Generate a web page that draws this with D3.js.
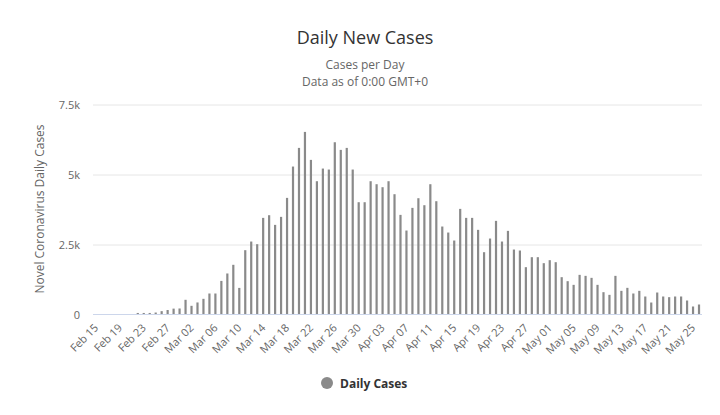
<!DOCTYPE html>
<html><head><meta charset="utf-8">
<script src="https://cdn.jsdelivr.net/npm/d3@7/dist/d3.min.js"></script>
<style>
body{margin:0;background:#fff}
text{font-family:"Open Sans","DejaVu Sans",sans-serif}
</style></head>
<body><svg id="c" width="720" height="415"></svg>
<script>
const dates = [
"Feb 15","Feb 16","Feb 17","Feb 18","Feb 19","Feb 20","Feb 21","Feb 22","Feb 23","Feb 24","Feb 25","Feb 26","Feb 27","Feb 28","Feb 29",
"Mar 01","Mar 02","Mar 03","Mar 04","Mar 05","Mar 06","Mar 07","Mar 08","Mar 09","Mar 10","Mar 11","Mar 12","Mar 13","Mar 14","Mar 15","Mar 16",
"Mar 17","Mar 18","Mar 19","Mar 20","Mar 21","Mar 22","Mar 23","Mar 24","Mar 25","Mar 26","Mar 27","Mar 28","Mar 29","Mar 30","Mar 31",
"Apr 01","Apr 02","Apr 03","Apr 04","Apr 05","Apr 06","Apr 07","Apr 08","Apr 09","Apr 10","Apr 11","Apr 12","Apr 13","Apr 14","Apr 15",
"Apr 16","Apr 17","Apr 18","Apr 19","Apr 20","Apr 21","Apr 22","Apr 23","Apr 24","Apr 25","Apr 26","Apr 27","Apr 28","Apr 29","Apr 30",
"May 01","May 02","May 03","May 04","May 05","May 06","May 07","May 08","May 09","May 10","May 11","May 12","May 13","May 14","May 15",
"May 16","May 17","May 18","May 19","May 20","May 21","May 22","May 23","May 24","May 25","May 26"];
const dailyCases = [
0,0,0,0,0,0,0,55,55,55,70,120,160,210,215,
525,310,430,560,750,750,1200,1465,1775,950,2297,2606,2511,3451,3546,3201,3487,4165,5284,5950,6521,5522,4760,5212,5177,6152,5879,5950,5177,4010,4010,
4760,4653,4546,4760,4296,3558,2999,3808,4153,3903,4653,4046,3142,2927,2642,3772,3451,3451,3023,2225,2713,3344,2606,2987,2320,2285,1690,2047,2047,1833,
1940,1868,1333,1190,1059,1416,1380,1309,1059,797,702,1380,845,952,750,845,643,428,785,643,619,643,643,500,286,357];
const yTickValues = [0,2500,5000,7500];
const yTickLabels = ["0","2.5k","5k","7.5k"];
const xTickLabels = dates.filter((d,i)=>i%4===0);

const svg = d3.select("#c");
const x = d3.scaleBand().domain(dates).range([93,702]).paddingInner(0).paddingOuter(0);
const y = d3.scaleLinear().domain([0,7500]).range([314.5,104.5]);

// titles
svg.append("text").attr("x",365).attr("y",44).attr("text-anchor","middle")
  .attr("font-size",18).attr("fill","#333").text("Daily New Cases");
svg.append("text").attr("x",365).attr("y",69).attr("text-anchor","middle")
  .attr("font-size",12).attr("fill","#666").text("Cases per Day");
svg.append("text").attr("x",365).attr("y",86).attr("text-anchor","middle")
  .attr("font-size",12).attr("fill","#666").text("Data as of 0:00 GMT+0");

// grid + y axis
const yAxis = d3.axisLeft(y).tickValues(yTickValues).tickSize(-(702-93))
  .tickFormat((d,i)=>yTickLabels[i]).tickPadding(13);
const gy = svg.append("g").attr("transform","translate(93,0)").call(yAxis);
gy.select(".domain").remove();
gy.selectAll(".tick line").attr("stroke","#e6e6e6");
gy.selectAll(".tick text").attr("font-size",11).attr("fill","#666").attr("font-family","'Open Sans',sans-serif");
gy.selectAll(".tick").filter(d=>d===0).select("line").remove();

svg.append("text").attr("transform","translate(44,209) rotate(-90)").attr("text-anchor","middle")
  .attr("font-size",12).attr("fill","#666").text("Novel Coronavirus Daily Cases");

// bars
const bw = 2.2;
svg.append("g").selectAll("rect").data(dailyCases).join("rect")
  .attr("x",(d,i)=>x(dates[i])+x.bandwidth()/2-bw/2)
  .attr("width",bw)
  .attr("y",d=>y(d))
  .attr("height",d=>y(0)-y(d))
  .attr("fill","#8a8a8a");

// x axis
const xAxis = d3.axisBottom(x).tickValues(xTickLabels).tickSize(0).tickPadding(0);
const gx = svg.append("g").attr("transform","translate(0,314.5)").call(xAxis);
gx.select(".domain").attr("stroke","#ccd6eb").attr("d","M93,0H702");
gx.selectAll(".tick text").attr("font-size",11).attr("fill","#666")
  .attr("font-family","'Open Sans',sans-serif")
  .attr("text-anchor","end").attr("dy",0).attr("y",0)
  .attr("transform","translate(3,14) rotate(-45)");

// legend
svg.append("circle").attr("cx",327).attr("cy",383).attr("r",6).attr("fill","#8a8a8a");
svg.append("text").attr("x",340).attr("y",387.5).attr("font-size",12).attr("font-weight","bold")
  .attr("fill","#333").text("Daily Cases");
</script></body></html>
